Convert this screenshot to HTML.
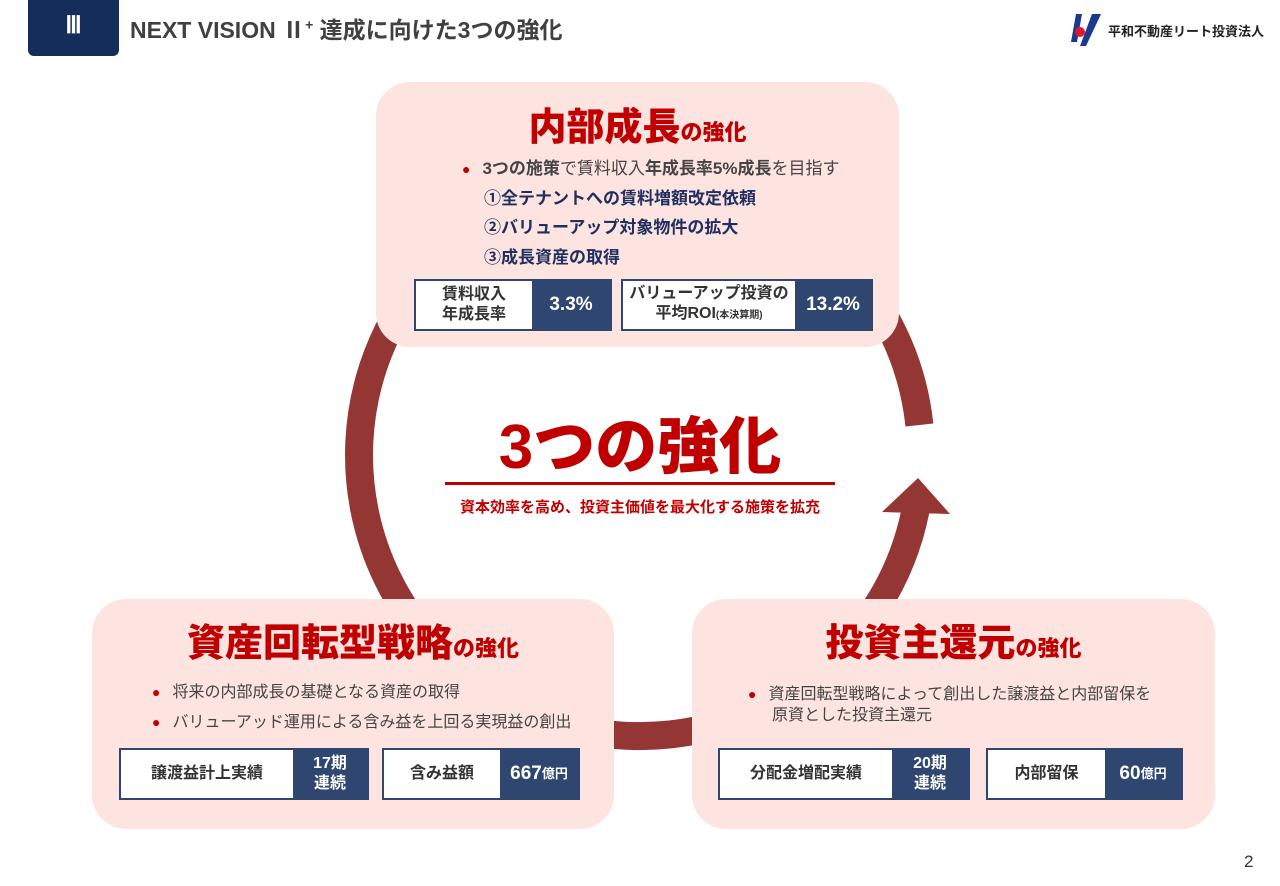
<!DOCTYPE html>
<html><head><meta charset="utf-8"><style>
*{margin:0;padding:0;box-sizing:border-box}
body{width:1280px;height:886px;background:#fff;position:relative;overflow:hidden;font-family:"Liberation Sans","Noto Sans CJK JP",sans-serif;color:#404040}
.a{position:absolute}
.box{position:absolute;background:#fde4e1;border-radius:34px}
.h{position:absolute;color:#c00000;font-weight:900;white-space:nowrap;text-align:center}
.h small{font-size:22px}
.st{position:absolute;display:flex;border:2px solid #2f4670;height:52px}
.st .w{background:#fff;display:flex;align-items:center;justify-content:center;text-align:center;font-weight:bold;font-size:16px;line-height:20px;color:#333}
.st .n{background:#2f4670;color:#fff;display:flex;align-items:center;justify-content:center;text-align:center;font-weight:bold;font-size:19px;line-height:20px}
.li{position:absolute;font-size:16px;white-space:nowrap;color:#444}
.li b.d{color:#c00000;margin-right:12px;font-size:14px}
</style></head><body>
<div class="a" style="left:28px;top:0;width:91px;height:56px;background:#142d5a;border-radius:0 0 6px 6px;color:#fff;font-family:'Liberation Serif',serif;font-weight:bold;font-size:24px;text-align:center;line-height:52px">Ⅲ</div>
<div class="a" style="left:130px;top:11px;font-size:23px;font-weight:bold;color:#404040;white-space:nowrap">NEXT VISION Ⅱ<sup style="font-size:14px">+</sup> 達成に向けた3つの強化</div>
<svg class="a" style="left:1070px;top:12px" width="32" height="36"><polygon points="6,2 12,2 7,30 1,30" fill="#1b3a8c"/><polygon points="22,2 31,2 16,34 10,34" fill="#1b3a8c"/><circle cx="10" cy="20" r="5" fill="#e0182d"/></svg>
<div class="a" style="left:1108px;top:21px;font-size:13px;font-weight:bold;color:#222;white-space:nowrap">平和不動産リート投資法人</div>

<svg class="a" style="left:0;top:0" width="1280" height="886">
<path d="M915.6,510 A281,281 0 1 1 919.4,425" fill="none" stroke="#943634" stroke-width="28"/>
<polygon points="918,478 950,514 882,512" fill="#943634"/>
</svg>

<div class="box" style="left:376px;top:82px;width:523px;height:265px"></div>
<div class="box" style="left:92px;top:599px;width:522px;height:230px"></div>
<div class="box" style="left:692px;top:599px;width:523px;height:230px"></div>

<div class="h" style="left:376px;width:523px;top:96px;font-size:38px">内部成長<small>の強化</small></div>
<div class="li" style="left:462px;top:154px;font-size:17px"><b class="d">●</b><b>3つの施策</b>で賃料収入<b>年成長率5%成長</b>を目指す</div>
<div class="li" style="left:484px;top:184px;font-size:17px;font-weight:bold;color:#1f2f60">①全テナントへの賃料増額改定依頼</div>
<div class="li" style="left:484px;top:213px;font-size:17px;font-weight:bold;color:#1f2f60">②バリューアップ対象物件の拡大</div>
<div class="li" style="left:484px;top:243px;font-size:17px;font-weight:bold;color:#1f2f60">③成長資産の取得</div>
<div class="st" style="left:414px;top:279px;width:198px"><div class="w" style="width:116px">賃料収入<br>年成長率</div><div class="n" style="flex:1">3.3%</div></div>
<div class="st" style="left:621px;top:279px;width:252px"><div class="w" style="width:172px"><div style="white-space:nowrap">バリューアップ投資の<br>平均ROI<span style="font-size:10px">(本決算期)</span></div></div><div class="n" style="flex:1">13.2%</div></div>

<div class="a" style="left:380px;top:412px;width:520px;text-align:center;color:#c00000;font-weight:900;font-size:62px;line-height:72px">3つの強化</div>
<div class="a" style="left:445px;top:482px;width:390px;height:3px;background:#c00000"></div>
<div class="a" style="left:380px;top:496px;width:520px;text-align:center;color:#c00000;font-weight:bold;font-size:15px">資本効率を高め、投資主価値を最大化する施策を拡充</div>

<div class="h" style="left:92px;width:522px;top:612px;font-size:38px">資産回転型戦略<small>の強化</small></div>
<div class="li" style="left:152px;top:678px"><b class="d">●</b>将来の内部成長の基礎となる資産の取得</div>
<div class="li" style="left:152px;top:708px"><b class="d">●</b>バリューアッド運用による含み益を上回る実現益の創出</div>
<div class="st" style="left:119px;top:748px;width:250px"><div class="w" style="width:172px">譲渡益計上実績</div><div class="n" style="flex:1;font-size:16px">17期<br>連続</div></div>
<div class="st" style="left:382px;top:748px;width:198px"><div class="w" style="width:116px">含み益額</div><div class="n" style="flex:1">667<span style="font-size:13px">億円</span></div></div>

<div class="h" style="left:692px;width:523px;top:612px;font-size:38px">投資主還元<small>の強化</small></div>
<div class="li" style="left:748px;top:684px;line-height:21px"><b class="d">●</b>資産回転型戦略によって創出した譲渡益と内部留保を<br><span style="margin-left:24px">原資とした投資主還元</span></div>
<div class="st" style="left:718px;top:748px;width:252px"><div class="w" style="width:172px">分配金増配実績</div><div class="n" style="flex:1;font-size:16px">20期<br>連続</div></div>
<div class="st" style="left:986px;top:748px;width:197px"><div class="w" style="width:117px">内部留保</div><div class="n" style="flex:1">60<span style="font-size:13px">億円</span></div></div>

<div class="a" style="left:1244px;top:852px;font-size:17px;color:#333">2</div>
</body></html>
